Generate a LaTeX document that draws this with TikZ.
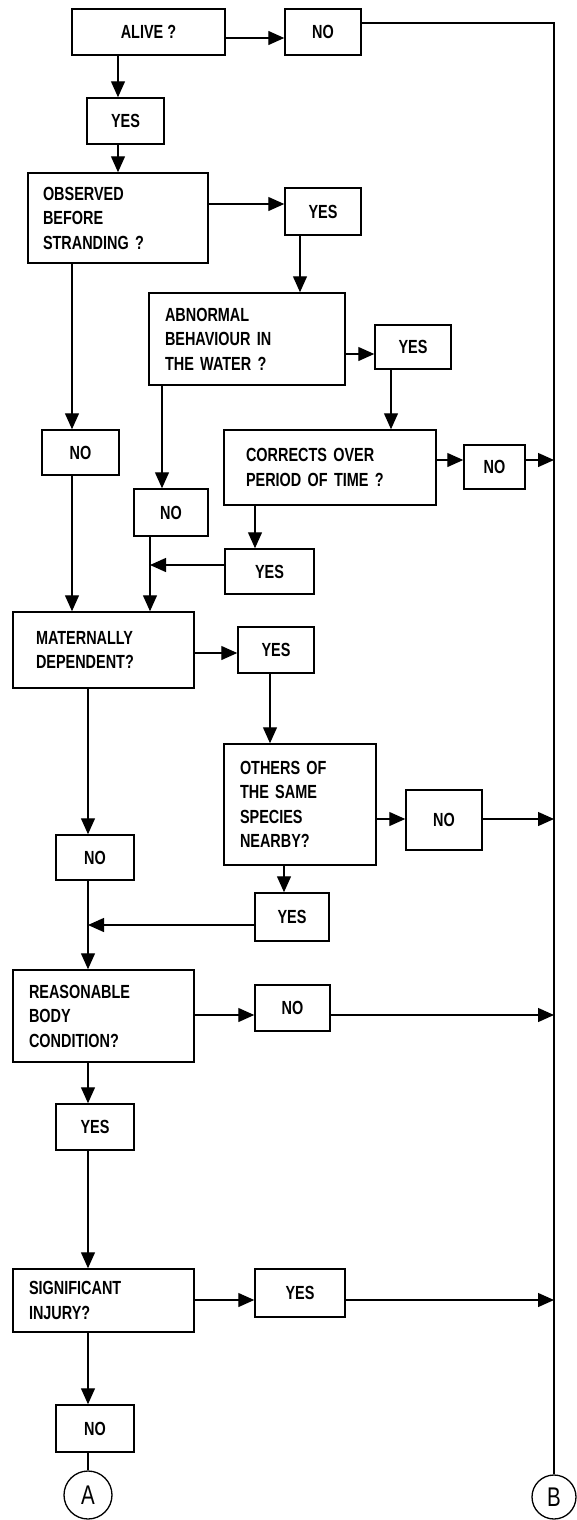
\documentclass[tikz,border=0pt]{standalone}
\usepackage{fontspec}
\setmainfont{Liberation Sans}[FakeStretch=0.76]
\usetikzlibrary{arrows.meta}

\begin{document}
\begin{tikzpicture}[x=1pt, y=-1pt,
  box/.style={draw, line width=1.5pt, inner sep=0pt, align=center,
    font=\fontsize{19}{24.5}\selectfont\bfseries},
  qbox/.style={box, align=left, inner xsep=16pt},
  arr/.style={line width=1.3pt, -{Triangle[length=16pt,width=14pt]}},
  link/.style={line width=1.3pt},
  conn/.style={draw, circle, line width=1.3pt, inner sep=0pt,
    font=\fontsize{27}{27}\selectfont}]
  \useasboundingbox (0,0) rectangle (576,1520);
  % questions
  \node[box, minimum width=153pt, minimum height=46pt] (alive) at (148.5,32) {ALIVE ?};
  \node[qbox, text width=150pt, inner xsep=15pt, minimum height=90pt] (obs) at (118,218) {OBSERVED\\BEFORE\\STRANDING ?};
  \node[qbox, text width=164pt, minimum height=92pt] (abn) at (247,339) {ABNORMAL\\BEHAVIOUR IN\\THE WATER ?};
  \node[qbox, text width=168pt, inner xsep=22pt, minimum height=75pt] (corr) at (330,467.5) {CORRECTS OVER\\PERIOD OF TIME ?};
  \node[qbox, text width=135pt, inner xsep=23pt, minimum height=76pt] (mat) at (103.5,650) {MATERNALLY\\DEPENDENT?};
  \node[qbox, text width=120pt, minimum height=121pt] (oth) at (300,804.5) {OTHERS OF\\THE SAME\\SPECIES\\NEARBY?};
  \node[qbox, text width=149pt, minimum height=92pt] (reas) at (103.5,1016) {REASONABLE\\BODY\\CONDITION?};
  \node[qbox, text width=149pt, minimum height=63pt] (sig) at (103.5,1300.5) {SIGNIFICANT\\INJURY?};
  % answers
  \node[box, minimum width=76pt, minimum height=46pt] (noA) at (323,32) {NO};
  \node[box, minimum width=77pt, minimum height=46pt] (yesA) at (125.5,121) {YES};
  \node[box, minimum width=76pt, minimum height=47pt] (yesB) at (323,211.5) {YES};
  \node[box, minimum width=76pt, minimum height=44pt] (yesC) at (413,347) {YES};
  \node[box, minimum width=61pt, minimum height=44pt] (noD) at (494.5,467) {NO};
  \node[box, minimum width=77pt, minimum height=45pt] (noB) at (80.5,452.5) {NO};
  \node[box, minimum width=74pt, minimum height=47pt] (noC) at (171,512.5) {NO};
  \node[box, minimum width=89pt, minimum height=45pt] (yesD) at (269.5,571.5) {YES};
  \node[box, minimum width=76pt, minimum height=46pt] (yesE) at (276,650) {YES};
  \node[box, minimum width=76pt, minimum height=60pt] (noF) at (444,820) {NO};
  \node[box, minimum width=78pt, minimum height=45pt] (noE) at (95,857.5) {NO};
  \node[box, minimum width=74pt, minimum height=48pt] (yesF) at (292,917) {YES};
  \node[box, minimum width=75pt, minimum height=46pt] (noG) at (292.5,1008) {NO};
  \node[box, minimum width=78pt, minimum height=46pt] (yesG) at (95,1127) {YES};
  \node[box, minimum width=90pt, minimum height=48pt] (yesH) at (300,1293) {YES};
  \node[box, minimum width=78pt, minimum height=47pt] (noH) at (95,1428.5) {NO};
  % exits
  \node[conn, minimum size=48pt] (circA) at (88,1495) {A};
  \node[conn, minimum size=44pt] (circB) at (554,1497) {B};
  \coordinate (joinA) at (150,565);
  \coordinate (joinB) at (88,925);
  % main column
  \draw[arr] (alive.south -| 118,0) -- (yesA.north -| 118,0);
  \draw[arr] (yesA.south -| 118,0) -- (obs.north -| 118,0);
  \draw[arr] (obs.south -| 72,0) -- (noB.north -| 72,0);
  \draw[arr] (noB.south -| 72,0) -- (mat.north -| 72,0);
  \draw[arr] (mat.south -| 88,0) -- (noE.north -| 88,0);
  \draw[arr] (noE.south -| 88,0) -- (reas.north -| 88,0);
  \draw[arr] (reas.south -| 88,0) -- (yesG.north -| 88,0);
  \draw[arr] (yesG.south -| 88,0) -- (sig.north -| 88,0);
  \draw[arr] (sig.south -| 88,0) -- (noH.north -| 88,0);
  \draw[link] (noH.south -| circA) -- (circA.north);
  % side branches
  \draw[arr] (alive.east |- 0,38) -- (noA.west |- 0,38);
  \draw[arr] (obs.east |- 0,204) -- (yesB.west |- 0,204);
  \draw[arr] (yesB.south -| 300,0) -- (abn.north -| 300,0);
  \draw[arr] (abn.east |- 0,354) -- (yesC.west |- 0,354);
  \draw[arr] (yesC.south -| 391,0) -- (corr.north -| 391,0);
  \draw[arr] (corr.east |- 0,460) -- (noD.west |- 0,460);
  \draw[arr] (abn.south -| 162,0) -- (noC.north -| 162,0);
  \draw[arr] (noC.south -| 150,0) -- (mat.north -| 150,0);
  \draw[arr] (corr.south -| 255,0) -- (yesD.north -| 255,0);
  \draw[arr] (yesD.west |- joinA) -- (joinA);
  \draw[arr] (mat.east |- 0,653) -- (yesE.west |- 0,653);
  \draw[arr] (yesE.south -| 270,0) -- (oth.north -| 270,0);
  \draw[arr] (oth.east |- 0,819) -- (noF.west |- 0,819);
  \draw[arr] (oth.south -| 284,0) -- (yesF.north -| 284,0);
  \draw[arr] (yesF.west |- joinB) -- (joinB);
  \draw[arr] (reas.east |- 0,1015) -- (noG.west |- 0,1015);
  \draw[arr] (sig.east |- 0,1300) -- (yesH.west |- 0,1300);
  % right hand line to B
  \draw[link] (noA.east |- 0,23) -- (circB |- 0,23) -- (circB.north);
  \draw[arr] (noD.east |- 0,460) -- (circB |- 0,460);
  \draw[arr] (noF.east |- 0,819) -- (circB |- 0,819);
  \draw[arr] (noG.east |- 0,1015) -- (circB |- 0,1015);
  \draw[arr] (yesH.east |- 0,1300) -- (circB |- 0,1300);
\end{tikzpicture}
\end{document}
